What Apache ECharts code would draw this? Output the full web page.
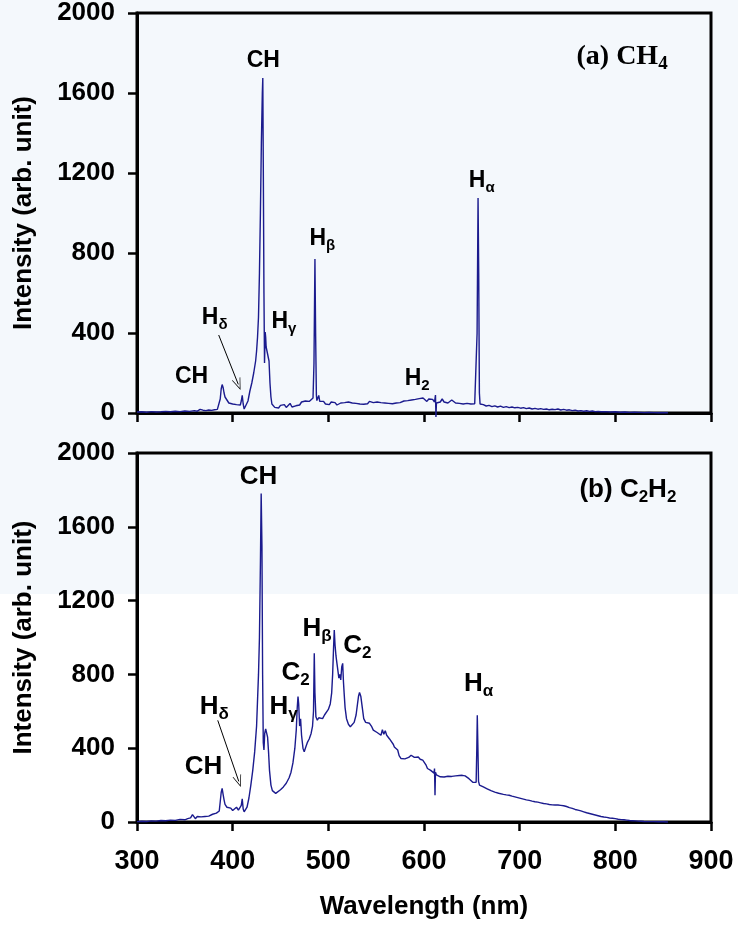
<!DOCTYPE html>
<html>
<head>
<meta charset="utf-8">
<title>Emission spectra CH4 / C2H2</title>
<script src="https://cdn.jsdelivr.net/npm/echarts@6/dist/echarts.min.js"></script>
<style>
    html, body { margin: 0; padding: 0; }
    /* scanned figure: pale blue band on the upper part */
    #main { width: 738px; height: 928px; background: linear-gradient(#f4f8fc 0, #f4f8fc 594px, #fff 594px); }
</style>
</head>
<body>
<div id="main"></div>
<script>
    // (a) CH4 spectrum  [wavelength nm, intensity]
    var ch4Points = [
        [300,5],[305,6],[310,4],[315,7],[320,5],[325,6],[330,8],[335,6],[340,9],[345,7],[350,10],[355,8],
        [360,12],[363,9],[366,18],[369,14],[372,12],[375,15],[378,13],[381,16],[384,18],[386,25],[387,70],
        [388,120],[389,142],[390,128],[391,100],[392,80],[394,65],[396,50],[398,55],[400,45],[402,50],[404,42],
        [406,48],[408,40],[409,60],[410,88],[411,45],[412,20],[413,15],[414,25],[416,60],[418,110],[420,150],
        [422,200],[424,260],[425,310],[426,380],[427,480],[428,700],[429,1000],[430,1350],[431,1600],[431.5,1675],
        [432,1250],[432.7,600],[433.3,250],[434,405],[434.5,380],[435,330],[436,340],[437,320],[438,260],[439,150],
        [440,80],[441,45],[442,35],[444,28],[446,32],[448,25],[450,38],[452,30],[454,42],[456,28],[458,35],
        [460,48],[462,30],[464,40],[466,36],[468,45],[470,40],[472,55],[474,48],[476,60],[478,52],[480,58],
        [482,62],[484,75],[485,250],[486,770],[486.7,400],[487.5,90],[488,62],[489,55],[490,88],[491,58],
        [493,50],[495,58],[497,45],[499,52],[501,42],[503,55],[505,48],[507,52],[509,40],[511,46],[513,50],
        [515,44],[517,52],[519,46],[521,55],[523,48],[525,50],[527,42],[529,48],[531,55],[533,45],[535,52],
        [537,44],[539,50],[541,46],[543,58],[545,48],[547,52],[549,45],[551,55],[553,48],[555,52],[557,44],
        [559,50],[561,56],[563,48],[565,52],[567,46],[569,55],[571,50],[573,58],[575,52],[577,48],[579,60],
        [581,55],[583,62],[585,58],[587,65],[589,55],[591,68],[593,60],[595,72],[597,62],[599,75],[601,65],
        [603,58],[605,70],[607,62],[609,68],[611,55],[612,90],[612.5,-20],[613,50],[615,60],[617,55],[619,70],
        [621,55],[623,62],[625,50],[627,58],[629,65],[631,55],[633,50],[635,58],[637,48],[639,52],[641,45],
        [643,55],[645,48],[647,50],[649,45],[651,48],[653,46],[654.5,55],[655.5,400],[656.5,1075],[657.2,700],
        [657.9,100],[658.6,45],[660,38],[662,42],[665,35],[668,38],[671,32],[674,36],[677,30],[680,34],
        [683,28],[686,32],[689,27],[692,30],[695,26],[698,28],[701,24],[704,27],[707,22],[710,25],[713,20],
        [716,23],[719,19],[722,22],[725,18],[728,20],[731,16],[734,19],[737,17],[740,20],[743,15],[746,18],
        [749,14],[752,16],[755,12],[758,14],[761,10],[764,12],[767,9],[770,11],[773,8],[776,10],[779,7],
        [782,8],[785,6],[790,7],[795,5],[800,6],[805,4],[810,5],[815,3],[820,4],[825,3],[830,2],[835,3],
        [840,2],[845,1],[850,2],[855,1]
    ];

    // (b) C2H2 spectrum
    var c2h2Points = [
        [300,2],[305,4],[310,3],[315,6],[320,5],[325,8],[330,7],[335,10],[340,9],[345,14],[350,12],[353,18],
        [356,22],[358,40],[359,35],[361,18],[363,30],[365,22],[367,28],[369,20],[371,30],[373,25],[375,32],
        [377,35],[379,42],[381,45],[383,48],[385,52],[386,60],[387,110],[388,160],[389,182],[390,150],[391,120],
        [392,95],[394,80],[396,70],[398,75],[400,62],[402,70],[404,80],[405,72],[406,65],[408,70],[409,90],
        [410,125],[411,70],[412,55],[413,50],[415,80],[417,130],[419,200],[421,280],[423,380],[425,520],
        [427,800],[428,1000],[429,1400],[429.8,1780],[430.6,1500],[431.3,800],[432,430],[432.7,390],[433.5,480],
        [434.5,505],[435.5,500],[436.5,460],[437.5,380],[438.5,280],[440,200],[441.5,170],[443,160],[445,155],
        [447,165],[450,175],[453,190],[456,210],[459,240],[461,270],[463,320],[465,400],[466.5,500],[467.5,620],
        [468.3,680],[469,640],[470,520],[471,560],[472,470],[473.5,400],[474.8,380],[476,400],[478,430],
        [480,450],[482,480],[483.5,520],[484.5,600],[485.3,914],[486,700],[487,570],[488.5,552],[490,565],
        [492,570],[494,560],[496,580],[498,588],[500,610],[502,640],[503.5,700],[504.5,800],[505.5,950],
        [506.2,1040],[507,960],[508,900],[509,860],[510,820],[511,780],[512,800],[513,770],[514,840],[515,860],
        [515.8,760],[516.5,700],[517.5,620],[519,560],[521,530],[523,516],[525,520],[527,540],[529,580],
        [530.5,640],[531.5,680],[532.6,702],[534,680],[535.5,620],[537,560],[539,540],[541,545],[543,535],
        [545,520],[547,498],[549,505],[551,485],[553,490],[555,470],[556.5,500],[558,475],[559.5,495],[561,470],
        [562,461],[564,450],[566,440],[568,420],[569,407],[571,415],[572.5,390],[574,360],[576,344],[578,345],
        [580,342],[582,345],[584,350],[586.5,362],[588,355],[590,350],[592,348],[594,352],[596,340],[598.7,335],
        [600,325],[602,310],[603.6,290],[605,285],[607,280],[609,270],[610.5,265],[611,290],[611.5,145],
        [612,270],[613,255],[615,250],[617,245],[619,240],[621,244],[623,242],[625,248],[627,250],[629,247],
        [631,252],[633,250],[635,255],[637,252],[640,253],[643,250],[645,245],[647,235],[649,225],[651,215],
        [653,208],[654.5,215],[655.2,400],[655.7,579],[656.3,420],[657,220],[658,200],[660,195],[662,190],
        [664,185],[666,180],[668,175],[670,170],[672,166],[674,162],[676,160],[678,156],[680,154],[683,150],
        [686,147],[689,145],[692,140],[695,136],[698,132],[701,128],[704,124],[707,120],[710,117],[713,113],
        [716,110],[719,108],[722,104],[725,100],[728,98],[731,95],[734,93],[737,92],[740,92],[743,90],[746,88],
        [749,84],[752,78],[755,74],[758,68],[761,64],[764,60],[767,55],[770,50],[773,46],[776,42],[779,38],
        [782,34],[785,30],[788,27],[791,25],[794,22],[797,20],[800,18],[803,15],[806,13],[809,12],[812,10],
        [815,8],[818,7],[821,6],[824,5],[827,4],[830,3],[835,2],[840,2],[845,1],[850,1],[855,0]
    ];

    var xTicks = [300, 900, 100];     // min, max, step
    var yTicks = [0, 2000, 400];

    // peak labels: text, left edge wavelength, intensity at cap middle
    var ch4Notes = [
        { text: '{m|CH}', wl: 414.6, val: 1760 },
        { text: '{m|H}{s|α}', wl: 646.9, val: 1160 },
        { text: '{m|H}{s|β}', wl: 480.2, val: 870 },
        { text: '{m|H}{s|δ}', wl: 367.7, val: 475 },
        { text: '{m|H}{s|γ}', wl: 440.6, val: 455 },
        { text: '{m|CH}', wl: 339.6, val: 180 },
        { text: '{m|H}{s|2}', wl: 579.8, val: 170 }
    ];
    var c2h2Notes = [
        { text: '{m|CH}', wl: 407.3, val: 1870 },
        { text: '{m|H}{s|β}', wl: 472.9, val: 1049 },
        { text: '{m|C}{s|2}', wl: 515.6, val: 957 },
        { text: '{m|C}{s|2}', wl: 451, val: 811 },
        { text: '{m|H}{s|γ}', wl: 438.5, val: 622 },
        { text: '{m|H}{s|α}', wl: 641.7, val: 751 },
        { text: '{m|H}{s|δ}', wl: 365.6, val: 622 },
        { text: '{m|CH}', wl: 350, val: 297 }
    ];
    var ch4Title = { text: '{m|(a) CH}{s|4}', wl: 759.4, val: 1780 };
    var c2h2Title = { text: '{m|(b) C}{s|2}{m|H}{s|2}', wl: 762.5, val: 1800 };

    // H-delta arrows
    var ch4Arrow = [[385.4, 390], [405.9, 143]];
    var c2h2Arrow = [[384.4, 551], [406.4, 220]];

    var sans = "'Liberation Sans', Arial, sans-serif";
    var serif = "'Liberation Serif', 'Times New Roman', serif";
    var lineColor = '#1b1b8e';
    var arrowHead = 'path://M0,0 L10,20 L8.4,20 L0,3.5 L-8.4,20 L-10,20 Z';

    var chart = echarts.init(document.getElementById('main'), null, { renderer: 'canvas' });

    function xAxisOpt(idx, showLabel) {
        return {
            type: 'value', gridIndex: idx,
            min: xTicks[0], max: xTicks[1], interval: xTicks[2],
            axisLine: { show: true, lineStyle: { color: '#000', width: 3 } },
            axisTick: { show: true, inside: false, length: 9, lineStyle: { color: '#000', width: 2.5 } },
            axisLabel: { show: showLabel, margin: 26, color: '#000', fontSize: 27, fontWeight: 'bold', fontFamily: sans,
                         formatter: function (v) { return String(v); } },
            splitLine: { show: false },
            name: showLabel ? 'Wavelength (nm)' : '',
            nameLocation: 'middle', nameGap: 72,
            nameTextStyle: { color: '#000', fontSize: 26, fontWeight: 'bold', fontFamily: sans }
        };
    }

    function yAxisOpt(idx) {
        return {
            type: 'value', gridIndex: idx,
            min: yTicks[0], max: yTicks[1], interval: yTicks[2],
            axisLine: { show: true, lineStyle: { color: '#000', width: 3 } },
            axisTick: { show: true, inside: false, length: 9, lineStyle: { color: '#000', width: 2.5 } },
            axisLabel: { margin: 22, color: '#000', fontSize: 26, fontWeight: 'bold', fontFamily: sans,
                         formatter: function (v) { return String(v); } },
            splitLine: { show: false },
            name: 'Intensity (arb. unit)',
            nameLocation: 'middle', nameGap: 100,
            nameTextStyle: { color: '#000', fontSize: 26, fontWeight: 'bold', fontFamily: sans }
        };
    }

    function spectrum(points, idx, arrow) {
        return {
            type: 'line', xAxisIndex: idx, yAxisIndex: idx,
            data: points, symbol: 'none', showSymbol: false,
            clip: false, silent: true, animation: false,
            lineStyle: { color: lineColor, width: 1.4 },
            markLine: {
                silent: true, animation: false,
                symbol: ['none', arrowHead], symbolSize: [9, 12],
                label: { show: false },
                lineStyle: { color: '#000', width: 1, type: 'solid' },
                emphasis: { disabled: true },
                data: [[{ coord: arrow[0] }, { coord: arrow[1] }]]
            }
        };
    }

    var gridBase = { show: true, borderColor: '#000', borderWidth: 3, backgroundColor: 'transparent', containLabel: false, outerBoundsMode: 'none' };

    chart.setOption({
        backgroundColor: 'transparent',
        animation: false,
        grid: [
            Object.assign({ left: 137, top: 13, width: 574, height: 400 }, gridBase),
            Object.assign({ left: 137, top: 453, width: 574, height: 369 }, gridBase)
        ],
        xAxis: [xAxisOpt(0, false), xAxisOpt(1, true)],
        yAxis: [yAxisOpt(0), yAxisOpt(1)],
        series: [spectrum(ch4Points, 0, ch4Arrow), spectrum(c2h2Points, 1, c2h2Arrow)]
    });

    // labels placed through the axes' own scales; a zero-width spacer token
    // makes the line taller so the subscript can sit at its bottom
    function noteText(n, grid, size, subSize, family) {
        var p = chart.convertToPixel({ gridIndex: grid }, [n.wl, n.val]);
        var lh = Math.round(size / 2 + 7 + subSize / 2);
        return {
            type: 'text', silent: true, z: 20,
            style: {
                x: p[0], y: p[1] - size / 2,
                text: n.text + '{z|\u200b}', align: 'left', verticalAlign: 'top',
                fill: '#000',
                rich: {
                    m: { fontSize: size, lineHeight: size, fontWeight: 'bold', fontFamily: family, fill: '#000', verticalAlign: 'top' },
                    s: { fontSize: subSize, lineHeight: subSize, fontWeight: 'bold', fontFamily: family, fill: '#000', verticalAlign: 'bottom' },
                    z: { fontSize: 2, lineHeight: lh, fill: 'rgba(0,0,0,0)' }
                }
            }
        };
    }

    var texts = [];
    ch4Notes.forEach(function (n) { texts.push(noteText(n, 0, 23, 15, sans)); });
    c2h2Notes.forEach(function (n) { texts.push(noteText(n, 1, 26, 17, sans)); });
    texts.push(noteText(ch4Title, 0, 28, 19, serif));
    texts.push(noteText(c2h2Title, 1, 26, 17, sans));
    chart.setOption({ graphic: texts });
</script>
</body>
</html>
